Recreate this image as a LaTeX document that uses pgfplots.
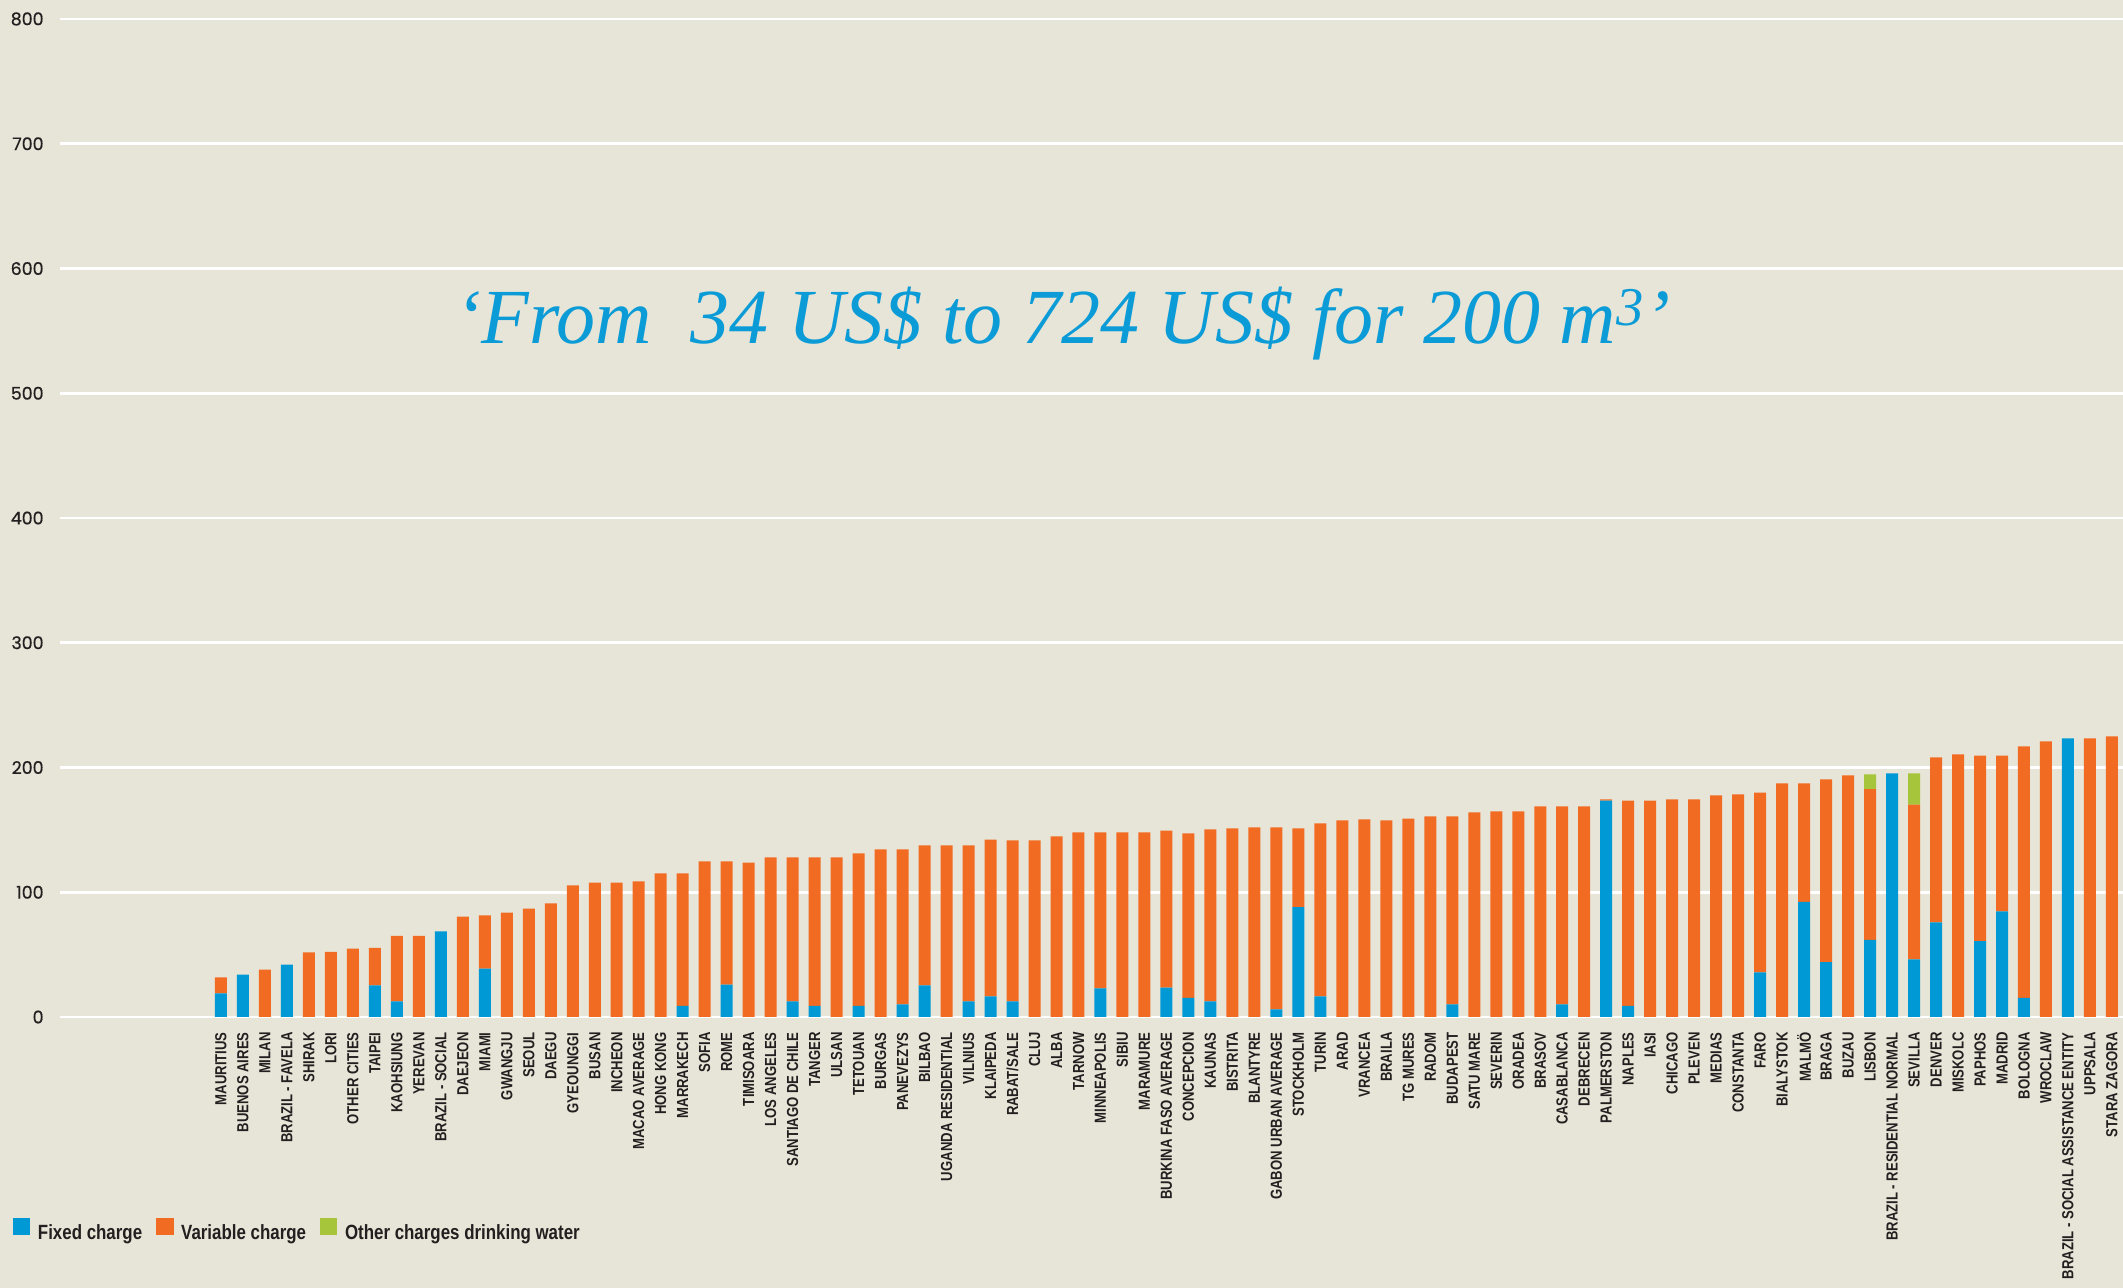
\documentclass[border=0pt]{standalone}
\usepackage{fontspec}
\usepackage{pgfplots}
\pgfplotsset{compat=1.18}
\usepackage{pgfplotstable}
\setmainfont{Liberation Sans}
\newfontfamily\condfont[FakeStretch=0.82]{Liberation Sans}
\newfontfamily\numfont[FakeBold=0.6]{Poppins}
\newfontfamily\titlefont{Liberation Serif}
\definecolor{bg}{HTML}{E7E5D7}
\definecolor{fixedc}{HTML}{0099D6}
\definecolor{varc}{HTML}{F26B22}
\definecolor{otherc}{HTML}{A6C53A}
\definecolor{txt}{HTML}{231F20}
\definecolor{titlec}{HTML}{0B9BD7}
\pgfplotstableread{
x F V O
1 18.9 12.8 0
2 34.0 0 0
3 0 38.0 0
4 41.9 0 0
5 0 51.7 0
6 0 52.3 0
7 0 54.9 0
8 25.3 30.2 0
9 12.5 52.6 0
10 0 65.1 0
11 68.6 0 0
12 0 80.5 0
13 38.7 42.7 0
14 0 83.7 0
15 0 86.9 0
16 0 91.0 0
17 0 105.5 0
18 0 107.8 0
19 0 107.8 0
20 0 108.7 0
21 0 115.1 0
22 9.0 106.1 0
23 0 124.7 0
24 25.9 98.8 0
25 0 123.8 0
26 0 127.9 0
27 12.5 115.4 0
28 9.0 118.9 0
29 0 127.9 0
30 9.0 122.1 0
31 0 134.3 0
32 10.2 124.1 0
33 25.3 112.2 0
34 0 137.5 0
35 12.5 125.0 0
36 16.6 125.6 0
37 12.5 129.1 0
38 0 141.6 0
39 0 144.8 0
40 0 148.0 0
41 23.0 125.0 0
42 0 148.0 0
43 0 148.0 0
44 23.5 125.9 0
45 15.4 131.7 0
46 12.5 137.8 0
47 0 151.2 0
48 0 152.0 0
49 6.1 145.9 0
50 88.1 63.1 0
51 16.6 138.6 0
52 0 157.6 0
53 0 158.4 0
54 0 157.6 0
55 0 159.0 0
56 0 160.8 0
57 10.2 150.6 0
58 0 164.0 0
59 0 164.8 0
60 0 164.8 0
61 0 168.9 0
62 10.2 158.7 0
63 0 168.9 0
64 173.5 0.9 0
65 9.0 164.5 0
66 0 173.5 0
67 0 174.4 0
68 0 174.4 0
69 0 177.6 0
70 0 178.5 0
71 35.8 144.1 0
72 0 187.2 0
73 92.2 95.0 0
74 43.9 146.5 0
75 0 193.6 0
76 61.9 120.7 11.9
77 195.3 0 0
78 46.2 124.1 25.0
79 75.9 132.2 0
80 0 210.5 0
81 60.8 148.8 0
82 84.6 125.0 0
83 15.4 201.5 0
84 0 220.9 0
85 223.3 0 0
86 0 223.3 0
87 0 225.0 0
}\datatable
\begin{document}
\begin{tikzpicture}
\fill[bg] (0,0) rectangle (1061.5pt,644pt);
\useasboundingbox (0,0) rectangle (1061.5pt,644pt);
\begin{axis}[
  at={(30pt,135.5pt)}, anchor=south west,
  scale only axis, width=1031.5pt, height=499pt,
  xmin=-6.32, xmax=87.5, ymin=0, ymax=800,
  ybar stacked, bar width=6pt,
  axis line style={draw=none},
  tick style={draw=none},
  major tick length=0pt,
  ytick={0,100,...,800},
  ymajorgrids, grid style={white, line width=1.3pt},
  xtick={1,...,87},
  xticklabels={MAURITIUS,BUENOS AIRES,MILAN,BRAZIL - FAVELA,SHIRAK,LORI,OTHER CITIES,TAIPEI,KAOHSIUNG,YEREVAN,BRAZIL - SOCIAL,DAEJEON,MIAMI,GWANGJU,SEOUL,DAEGU,GYEOUNGGI,BUSAN,INCHEON,MACAO AVERAGE,HONG KONG,MARRAKECH,SOFIA,ROME,TIMISOARA,LOS ANGELES,SANTIAGO DE CHILE,TANGER,ULSAN,TETOUAN,BURGAS,PANEVEZYS,BILBAO,UGANDA RESIDENTIAL,VILNIUS,KLAIPEDA,RABAT/SALE,CLUJ,ALBA,TARNOW,MINNEAPOLIS,SIBIU,MARAMURE,BURKINA FASO AVERAGE,CONCEPCION,KAUNAS,BISTRITA,BLANTYRE,GABON URBAN AVERAGE,STOCKHOLM,TURIN,ARAD,VRANCEA,BRAILA,TG MURES,RADOM,BUDAPEST,SATU MARE,SEVERIN,ORADEA,BRASOV,CASABLANCA,DEBRECEN,PALMERSTON,NAPLES,IASI,CHICAGO,PLEVEN,MEDIAS,CONSTANTA,FARO,BIALYSTOK,MALMÖ,BRAGA,BUZAU,LISBON,BRAZIL - RESIDENTIAL NORMAL,SEVILLA,DENVER,MISKOLC,PAPHOS,MADRID,BOLOGNA,WROCLAW,BRAZIL - SOCIAL ASSISTANCE ENTITY,UPPSALA,STARA ZAGORA},
  xticklabel style={rotate=90, anchor=east, inner sep=0pt, font=\condfont\bfseries\fontsize{8}{9}\selectfont, text=txt},
  xticklabel shift=7.5pt,
  yticklabel style={anchor=east, inner sep=0pt, xshift=-8pt, font=\numfont\fontsize{8.7}{10}\selectfont, text=txt},
  /pgf/number format/assume math mode=true,
  legend columns=-1,
  legend style={at={(-0.023,-0.2134)}, anchor=west, draw=none, fill=none, inner sep=0pt,
    font=\condfont\bfseries\fontsize{10.3}{12}\selectfont, text=txt,
    nodes={inner sep=0pt},
    /tikz/every odd column/.append style={column sep=3.8pt},
    /tikz/every even column/.append style={column sep=7pt}},
  legend image code/.code={\fill[#1] (0pt,-1pt) rectangle (8.7pt,7.7pt);},
  clip=false,
]
\addplot[fill=fixedc, draw=none] table[x=x,y=F]{\datatable};
\addplot[fill=varc, draw=none] table[x=x,y=V]{\datatable};
\addplot[fill=otherc, draw=none] table[x=x,y=O]{\datatable};
\legend{Fixed charge, Variable charge, Other charges drinking water}
\node[text=titlec, font=\titlefont\itshape\fontsize{39}{47}\selectfont] at (axis cs:39.3,556) {‘From\ \ 34 US\$ to 724 US\$ for 200 m\textsuperscript{3}’};
\end{axis}
\end{tikzpicture}
\end{document}
